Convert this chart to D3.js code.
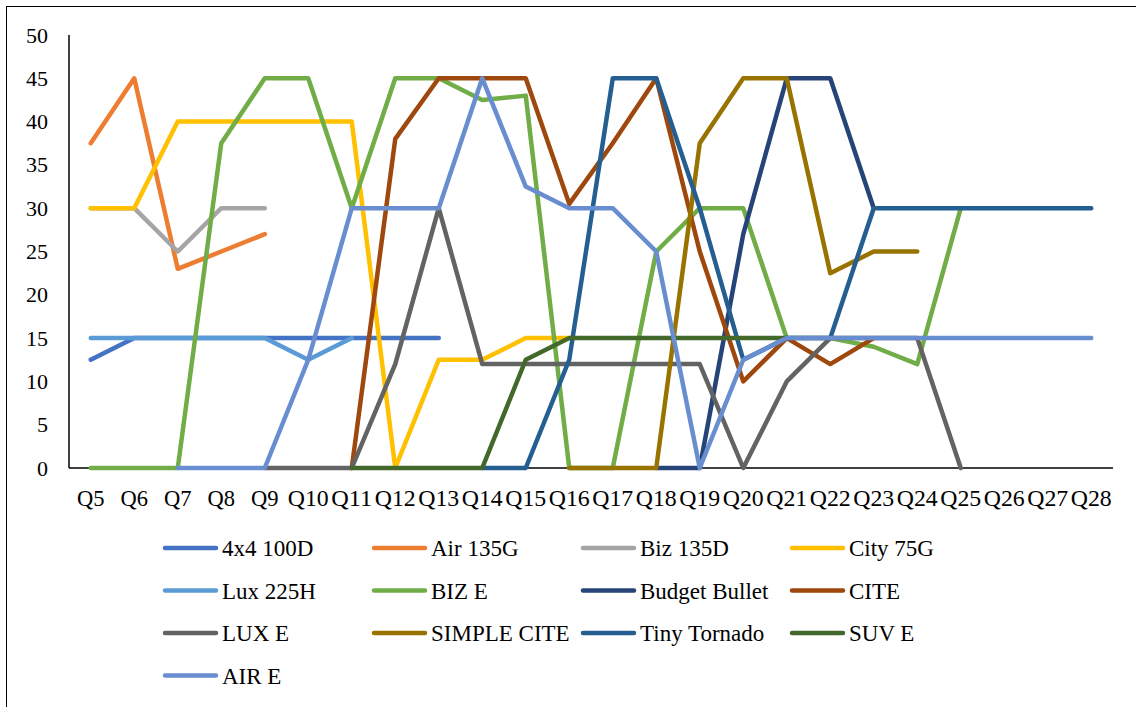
<!DOCTYPE html>
<html>
<head>
<meta charset="utf-8">
<script src="https://cdn.jsdelivr.net/npm/d3@7/dist/d3.min.js"></script>
<style>
  html, body { margin: 0; padding: 0; background: #fff; }
  svg { display: block; }
  text { font-family: "Liberation Serif", "Times New Roman", serif; fill: #000; }
</style>
</head>
<body>
<svg id="chart" width="1136" height="707"></svg>
<script>
const categories = ["Q5","Q6","Q7","Q8","Q9","Q10","Q11","Q12","Q13","Q14","Q15","Q16","Q17","Q18","Q19","Q20","Q21","Q22","Q23","Q24","Q25","Q26","Q27","Q28"];
const yTicks = [0,5,10,15,20,25,30,35,40,45,50];
const seriesNames = ["4x4 100D","Air 135G","Biz 135D","City 75G","Lux 225H","BIZ E","Budget Bullet","CITE","LUX E","SIMPLE CITE","Tiny Tornado","SUV E","AIR E"];
const seriesColors = ["#4472C4","#ED7D31","#A5A5A5","#FFC000","#5B9BD5","#70AD47","#264478","#9E480E","#636363","#997300","#255E91","#43682B","#698ED0"];
const _ = null;
const v4x4_100D    = [12.5,15,15,15,15,15,15,15,15,_,_,_,_,_,_,_,_,_,_,_,_,_,_,_];
const vAir_135G    = [37.5,45,23,25,27,_,_,_,_,_,_,_,_,_,_,_,_,_,_,_,_,_,_,_];
const vBiz_135D    = [30,30,25,30,30,_,_,_,_,_,_,_,_,_,_,_,_,_,_,_,_,_,_,_];
const vCity_75G    = [30,30,40,40,40,40,40,0,12.5,12.5,15,15,_,_,_,_,_,_,_,_,_,_,_,_];
const vLux_225H    = [15,15,15,15,15,12.5,15,_,_,_,_,_,_,_,_,_,_,_,_,_,_,_,_,_];
const vBIZ_E       = [0,0,0,37.5,45,45,30,45,45,42.5,43,0,0,25,30,30,15,15,14,12,30,_,_,_];
const vBudgetBullet= [_,_,_,_,_,_,_,_,_,_,_,_,_,0,0,27,45,45,30,_,_,_,_,_];
const vCITE        = [_,_,_,_,_,_,0,38,45,45,45,30.5,37.5,45,25,10,15,12,15,_,_,_,_,_];
const vLUX_E       = [_,_,_,_,0,0,0,12,30,12,12,12,12,12,12,0,10,15,15,15,0,_,_,_];
const vSIMPLE_CITE = [_,_,_,_,_,_,_,_,_,_,_,0,0,0,37.5,45,45,22.5,25,25,_,_,_,_];
const vTinyTornado = [_,_,_,_,_,_,_,_,_,0,0,12.5,45,45,30,12.5,15,15,30,30,30,30,30,30];
const vSUV_E       = [_,_,_,_,_,_,0,0,0,0,12.5,15,15,15,15,15,15,_,_,_,_,_,_,_];
const vAIR_E       = [_,_,0,0,0,12.5,30,30,30,45,32.5,30,30,25,0,12.5,15,15,15,15,15,15,15,15];

const seriesValues = [v4x4_100D,vAir_135G,vBiz_135D,vCity_75G,vLux_225H,vBIZ_E,vBudgetBullet,vCITE,vLUX_E,vSIMPLE_CITE,vTinyTornado,vSUV_E,vAIR_E];

const svg = d3.select("#chart");

// outer chart border
svg.append("rect").attr("x", 6.5).attr("y", 6.5).attr("width", 1200).attr("height", 800)
  .attr("fill", "none").attr("stroke", "#000").attr("stroke-width", 1);

const x = d3.scaleBand().domain(categories).range([69, 1113]).padding(0);
const y = d3.scaleLinear().domain([0, 50]).range([468, 35]);

// y tick labels
svg.append("g").selectAll("text").data(yTicks).join("text")
  .attr("x", 48).attr("y", d => y(d) + 7.5)
  .attr("text-anchor", "end").attr("font-size", 22).text(d => d);

// y axis line
svg.append("line").attr("x1", 69).attr("x2", 69).attr("y1", y(50)).attr("y2", y(0))
  .attr("stroke", "#000").attr("stroke-width", 1.5);

// x tick labels
svg.append("g").selectAll("text").data(categories).join("text")
  .attr("x", d => x(d) + x.bandwidth() / 2).attr("y", 506)
  .attr("text-anchor", "middle").attr("font-size", 22.5)
  .attr("textLength", d => d.length > 2 ? 41 : null)
  .attr("lengthAdjust", "spacingAndGlyphs")
  .text(d => d);

const line = d3.line()
  .defined(d => d.v !== null)
  .x(d => x(d.c) + x.bandwidth() / 2)
  .y(d => y(d.v));

// x axis line (drawn under series)
svg.append("line").attr("x1", 69).attr("x2", 1113).attr("y1", y(0)).attr("y2", y(0))
  .attr("stroke", "#000").attr("stroke-width", 1.5);

const gLines = svg.append("g");
seriesValues.forEach((vals, i) => {
  const pts = categories.map((c, j) => ({ c, v: vals[j] }));
  gLines.append("path").datum(pts)
    .attr("d", line)
    .attr("fill", "none")
    .attr("stroke", seriesColors[i])
    .attr("stroke-width", 4.5)
    .attr("stroke-linejoin", "round")
    .attr("stroke-linecap", "round");
});

// legend
const legCols = [163, 372, 581, 790];
const legRows = [548, 590.5, 633, 675.5];
const leg = svg.append("g");
seriesNames.forEach((name, i) => {
  const cx = legCols[i % 4], cy = legRows[Math.floor(i / 4)];
  leg.append("line").attr("x1", cx + 2).attr("x2", cx + 53).attr("y1", cy).attr("y2", cy)
    .attr("stroke", seriesColors[i]).attr("stroke-width", 4.5).attr("stroke-linecap", "round");
  leg.append("text").attr("x", cx + 59).attr("y", cy + 8).attr("font-size", 23).text(name);
});
</script>
</body>
</html>
